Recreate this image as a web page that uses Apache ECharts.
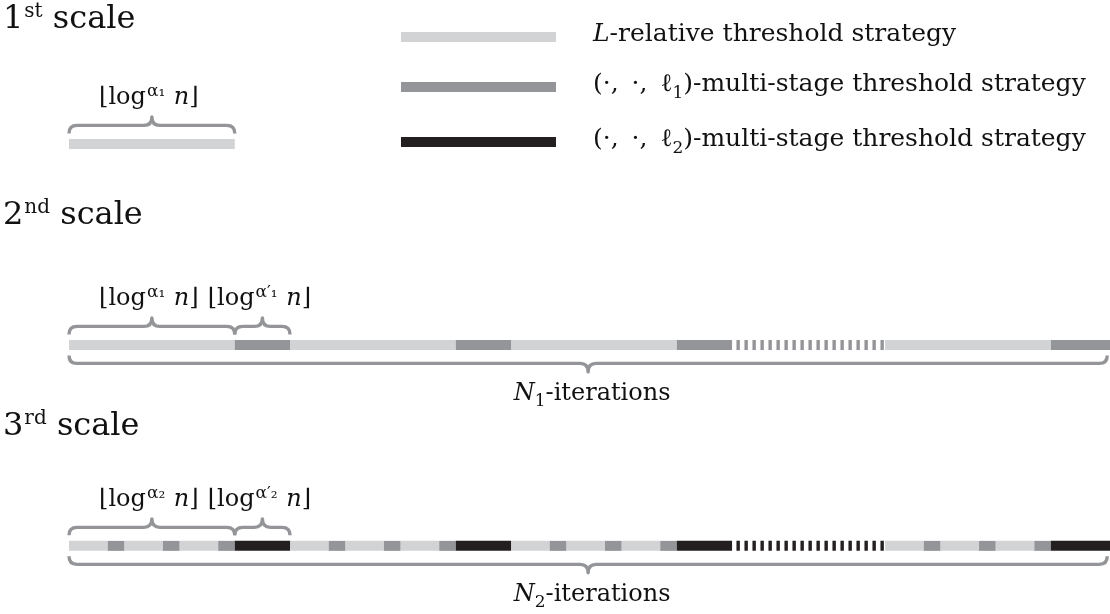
<!DOCTYPE html>
<html><head><meta charset="utf-8">
<script src="https://cdn.jsdelivr.net/npm/echarts@6/dist/echarts.min.js"></script>
<style>html,body{margin:0;padding:0;background:#fff}#c{width:1110px;height:614px}</style>
</head><body><div id="c"></div><script>
// ---------------- data ----------------
const rowNames = ['1st scale', '2nd scale', '3rd scale'];
const rowTitles = ['{n|1}{sup|st}{n| scale}', '{n|2}{sup|nd}{n| scale}', '{n|3}{sup|rd}{n| scale}'];
const strategyNames = ['L-relative threshold strategy', '(·,·,ℓ1)-multi-stage threshold strategy', '(·,·,ℓ2)-multi-stage threshold strategy'];
const strategyLabels = [
  '{sp|}{it|L}{t|-relative threshold strategy}',
  '{sp|}{t|(·,\u2009 ·,\u2009 ℓ}{sub|1}{t|)-multi-stage threshold strategy}',
  '{sp|}{t|(·,\u2009 ·,\u2009 ℓ}{sub|2}{t|)-multi-stage threshold strategy}'
];
// segments: [code, length] ; length in units of ⌊log^{α'} n⌋
// L = L-relative, M = (·,·,ℓ1) multi-stage, B = (·,·,ℓ2) multi-stage, 'd' suffix = elided run
const scale1Segments = [['L', 3]];
const scale2Segments = [['L', 3], ['M', 1], ['L', 3], ['M', 1], ['L', 3], ['M', 1], ['Md', 2.77], ['L', 3], ['M', 1.07]];
const scale3Segments = [
  ['L', 0.7], ['M', 0.3], ['L', 0.7], ['M', 0.3], ['L', 0.7], ['M', 0.3], ['B', 1],
  ['L', 0.7], ['M', 0.3], ['L', 0.7], ['M', 0.3], ['L', 0.7], ['M', 0.3], ['B', 1],
  ['L', 0.7], ['M', 0.3], ['L', 0.7], ['M', 0.3], ['L', 0.7], ['M', 0.3], ['B', 1],
  ['Bd', 2.77],
  ['L', 0.7], ['M', 0.3], ['L', 0.7], ['M', 0.3], ['L', 0.7], ['M', 0.3], ['B', 1.07]
];
// braces: [row, from, to, label]
const topBraces = [
  [0, 0, 3, '{t|⌊log}{sup|α₁}{t| }{it|n}{t|⌋}'],
  [1, 0, 3, '{t|⌊log}{sup|α₁}{t| }{it|n}{t|⌋}'],
  [1, 3, 4, '{t|⌊log}{sup|α′₁}{t| }{it|n}{t|⌋}'],
  [2, 0, 3, '{t|⌊log}{sup|α₂}{t| }{it|n}{t|⌋}'],
  [2, 3, 4, '{t|⌊log}{sup|α′₂}{t| }{it|n}{t|⌋}']
];
const bottomBraces = [
  [1, 0, 18.79, '{it|N}{sub|1}{t|-iterations}'],
  [2, 0, 18.79, '{it|N}{sub|2}{t|-iterations}']
];
// ---------------- styles ----------------
const COLORS = {L: '#d1d3d4', M: '#939598', B: '#231f20'};
const BRACE = '#939598';
const SERIF = 'DejaVu Serif';
const INK = '#111';
const BAR_H = 10;

const allRows = [scale1Segments, scale2Segments, scale3Segments];
function segData(code) {
  const out = [];
  allRows.forEach((segs, row) => {
    let pos = 0;
    segs.forEach(([c, len]) => {
      const base = c[0], dashed = c.length > 1 ? 1 : 0;
      if (base === code) out.push([row, pos, pos + len, dashed]);
      pos += len;
    });
  });
  return out;
}
function renderSeg(params, api) {
  const row = api.value(0), a = api.value(1), b = api.value(2), dashed = api.value(3);
  const p0 = api.coord([a, row]), p1 = api.coord([b, row]);
  const color = api.visual('color');
  if (dashed) {
    return {type: 'line', shape: {x1: p0[0], y1: p0[1], x2: p1[0], y2: p1[1]},
      style: {stroke: color, lineWidth: BAR_H, lineDash: [3.4, 4.6], lineDashOffset: 3.6}};
  }
  return {type: 'rect', shape: {x: p0[0], y: p0[1] - BAR_H / 2, width: p1[0] - p0[0], height: BAR_H},
    style: {fill: color}};
}
const legendRich = {
  t: {fontFamily: SERIF, fontSize: 25, color: INK, padding: [0, 0, 5, 0], verticalAlign: 'bottom'},
  it: {fontFamily: SERIF, fontSize: 25, fontStyle: 'italic', color: INK, padding: [0, 0, 5, 0], verticalAlign: 'bottom'},
  sub: {fontFamily: SERIF, fontSize: 17, color: INK, padding: [0, 0, 0, 0], verticalAlign: 'bottom'},
  sp: {width: 32}
};
function bracePath(xa, xb, yEnd, yLine, yTip, xm) {
  const r = Math.min(8, (xb - xa) / 4);
  return 'M' + xa + ' ' + yEnd + ' Q' + xa + ' ' + yLine + ' ' + (xa + r) + ' ' + yLine +
    ' L' + (xm - r) + ' ' + yLine + ' Q' + xm + ' ' + yLine + ' ' + xm + ' ' + yTip +
    ' Q' + xm + ' ' + yLine + ' ' + (xm + r) + ' ' + yLine +
    ' L' + (xb - r) + ' ' + yLine + ' Q' + xb + ' ' + yLine + ' ' + xb + ' ' + yEnd;
}
const braceRich = {
  t: {fontFamily: SERIF, fontSize: 24, fill: INK, padding: [0, 0, 5, 0], verticalAlign: 'bottom'},
  it: {fontFamily: SERIF, fontSize: 24, fontStyle: 'italic', fill: INK, padding: [0, 0, 5, 0], verticalAlign: 'bottom'},
  sup: {fontFamily: SERIF, fontSize: 17, fill: INK, padding: [0, 1, 15, 1], verticalAlign: 'bottom'},
  sub: {fontFamily: SERIF, fontSize: 17, fill: INK, padding: [0, 0, 0, 0], verticalAlign: 'bottom'}
};
function renderBrace(dir) {
  return function (params, api) {
    const row = api.value(0), a = api.value(1), b = api.value(2);
    const p0 = api.coord([a, row]), p1 = api.coord([b, row]);
    const xa = p0[0], xb = p1[0], xm = (xa + xb) / 2, y = p0[1];
    const lbl = (dir > 0 ? bottomBraces : topBraces)[params.dataIndex][3];
    const yEnd = y + dir * 10.5, yLine = y + dir * 18.5, yTip = y + dir * 27;
    return {type: 'group', children: [
      {type: 'path', shape: {pathData: bracePath(xa, xb, yEnd, yLine, yTip, xm)},
        style: {stroke: BRACE, lineWidth: 3.4, fill: null, lineJoin: 'round'}},
      {type: 'text', x: xm + (dir > 0 ? 4 : -3), y: y + dir * (dir > 0 ? 51 : 45),
        style: {text: lbl, rich: braceRich, align: 'center', verticalAlign: 'middle'}}
    ]};
  };
}
const chart = echarts.init(document.getElementById('c'), null, {renderer: 'canvas'});
const titleRich = {
  n: {fontFamily: SERIF, fontSize: 32, fontWeight: 'normal', color: INK, padding: [0, 0, 0, 0], verticalAlign: 'bottom'},
  sup: {fontFamily: SERIF, fontSize: 20, fontWeight: 'normal', color: INK, padding: [0, 0, 14, 1], verticalAlign: 'bottom'}
};
const titleTops = [2, 198, 409];
chart.setOption({
  animation: false,
  backgroundColor: '#fff',
  title: rowTitles.map((t, i) => ({text: t, left: 3, top: titleTops[i], padding: 0,
    textStyle: {fontWeight: 'normal', fontFamily: SERIF, rich: titleRich}})),
  legend: {
    orient: 'vertical', left: 401, top: 22, padding: 0, itemWidth: 155, itemHeight: 10, itemGap: 25,
    icon: 'rect', data: strategyNames, selectedMode: false,
    formatter: name => strategyLabels[strategyNames.indexOf(name)],
    textStyle: {rich: legendRich}
  },
  grid: {left: 69, right: 0, top: 0, bottom: 0, containLabel: false},
  xAxis: {type: 'value', min: 0, max: 18.84, show: false},
  yAxis: {type: 'value', min: -0.716, max: 2.339, inverse: true, show: false},
  series: [
    {type: 'custom', name: strategyNames[0], itemStyle: {color: COLORS.L}, renderItem: renderSeg, data: segData('L'), encode: {x: [1, 2], y: 0}},
    {type: 'custom', name: strategyNames[1], itemStyle: {color: COLORS.M}, renderItem: renderSeg, data: segData('M'), encode: {x: [1, 2], y: 0}},
    {type: 'custom', name: strategyNames[2], itemStyle: {color: COLORS.B}, renderItem: renderSeg, data: segData('B'), encode: {x: [1, 2], y: 0}},
    {type: 'custom', name: 'top braces', renderItem: renderBrace(-1), data: topBraces.map(d => d.slice(0, 3)), encode: {x: [1, 2], y: 0}},
    {type: 'custom', name: 'bottom braces', renderItem: renderBrace(1), data: bottomBraces.map(d => d.slice(0, 3)), encode: {x: [1, 2], y: 0}}
  ]
});
</script></body></html>
